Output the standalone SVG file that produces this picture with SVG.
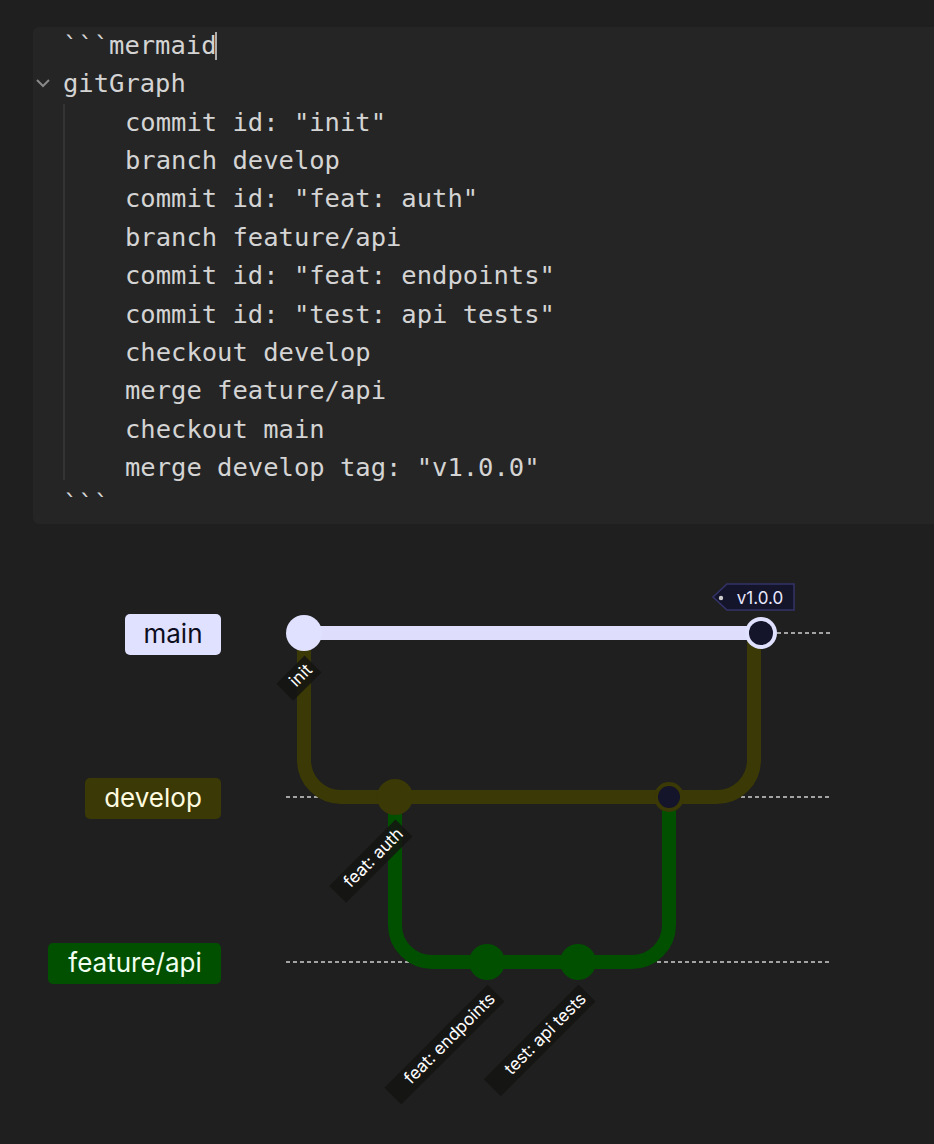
<svg xmlns="http://www.w3.org/2000/svg" width="934" height="1144" viewBox="0 0 934 1144">
<style>
.code{font-family:"DejaVu Sans Mono",monospace;font-size:25.5px;fill:#d4d4d4}
.bl{font-family:Inter,"Noto Sans",sans-serif;font-size:26px;text-anchor:middle}
.cl{font-family:Inter,"Noto Sans",sans-serif;font-size:17px;fill:#ffffff;text-anchor:end}
.lb{fill:#141412;fill-opacity:0.85}
.dash{stroke:#cfcfcf;stroke-width:1.5;stroke-dasharray:4 3;fill:none}
</style>
<rect width="934" height="1144" fill="#1f1f1f"/>
<g id="code">
<rect x="33" y="27" width="910" height="497" rx="6" fill="#252525"/>
<line x1="64" y1="104" x2="64" y2="480" stroke="#444" stroke-width="1"/>
<path d="M37 80 l6 6 l6 -6" stroke="#888" stroke-width="2" fill="none"/>
<text class="code" x="63" y="54">```mermaid</text>
<line x1="216" y1="32" x2="216" y2="60" stroke="#ddd" stroke-width="1.5"/>
<text class="code" x="63" y="92">gitGraph</text>
<text class="code" x="125" y="131">commit id: "init"</text>
<text class="code" x="125" y="169">branch develop</text>
<text class="code" x="125" y="207">commit id: "feat: auth"</text>
<text class="code" x="125" y="246">branch feature/api</text>
<text class="code" x="125" y="284">commit id: "feat: endpoints"</text>
<text class="code" x="125" y="323">commit id: "test: api tests"</text>
<text class="code" x="125" y="361">checkout develop</text>
<text class="code" x="125" y="399">merge feature/api</text>
<text class="code" x="125" y="438">checkout main</text>
<text class="code" x="125" y="476">merge develop tag: "v1.0.0"</text>
<text class="code" x="63" y="512">```</text>
</g>
<g id="lanes">
<line class="dash" x1="770" y1="633" x2="830" y2="633"/>
<line class="dash" x1="286" y1="797" x2="830" y2="797"/>
<line class="dash" x1="286" y1="962" x2="830" y2="962"/>
</g>
<g id="connectors" fill="none" stroke-width="14">
<path d="M304 633 V760 A37 37 0 0 0 341 797 H717 A37 37 0 0 0 754 760 V633" stroke="#3b3905"/>
<path d="M395 797 V925 A37 37 0 0 0 432 962 H632 A37 37 0 0 0 669 925 V797" stroke="#005000"/>
<path d="M304 633 H761" stroke="#dedefc"/>
</g>
<g id="branch-main"><rect x="125" y="614" width="96" height="41" rx="5" fill="#e0e0ff"/><text class="bl" x="173" y="643" fill="#0d0d20">main</text></g>
<g id="branch-develop"><rect x="85" y="778" width="136" height="41" rx="5" fill="#3b3905"/><text class="bl" x="153" y="807" fill="#fffbe0">develop</text></g>
<g id="branch-feature"><rect x="48" y="943" width="173" height="41" rx="5" fill="#005000"/><text class="bl" x="135" y="972" fill="#f0fff0">feature/api</text></g>
<g id="commit-init"><circle cx="304" cy="633" r="18" fill="#e0e0ff"/>
<g transform="translate(306,654) rotate(-45)"><rect class="lb" x="-42" y="0" width="40" height="24"/><text class="cl" x="-7" y="17">init</text></g></g>
<g id="commit-auth"><circle cx="395" cy="797" r="18" fill="#3b3905"/>
<g transform="translate(397,818) rotate(-45)"><rect class="lb" x="-96" y="0" width="94" height="24"/><text class="cl" x="-7" y="17">feat: auth</text></g></g>
<g id="commit-endpoints"><circle cx="487" cy="962" r="18" fill="#005000"/>
<g transform="translate(489,983) rotate(-45)"><rect class="lb" x="-148" y="0" width="146" height="24"/><text class="cl" x="-7" y="17">feat: endpoints</text></g></g>
<g id="commit-tests"><circle cx="578" cy="962" r="18" fill="#005000"/>
<g transform="translate(580,983) rotate(-45)"><rect class="lb" x="-136" y="0" width="134" height="24"/><text class="cl" x="-7" y="17">test: api tests</text></g></g>
<g id="commit-merge-dev"><circle cx="669" cy="797" r="15" fill="#3b3905"/><circle cx="669" cy="797" r="11" fill="#14142a"/></g>
<g id="commit-merge-main"><circle cx="761" cy="633" r="16" fill="#e0e0ff"/><circle cx="761" cy="633" r="12" fill="#14142a"/></g>
<g id="tag-v1"><path d="M727 584 H794 V610 H727 L713 597 Z" fill="#14142a" stroke="#33336a" stroke-width="1.5"/><circle cx="721" cy="598" r="2.2" fill="#ccc"/><text x="760" y="604" font-family="Inter,'Noto Sans',sans-serif" font-size="17" fill="#e8e8ff" text-anchor="middle">v1.0.0</text></g>
</svg>
